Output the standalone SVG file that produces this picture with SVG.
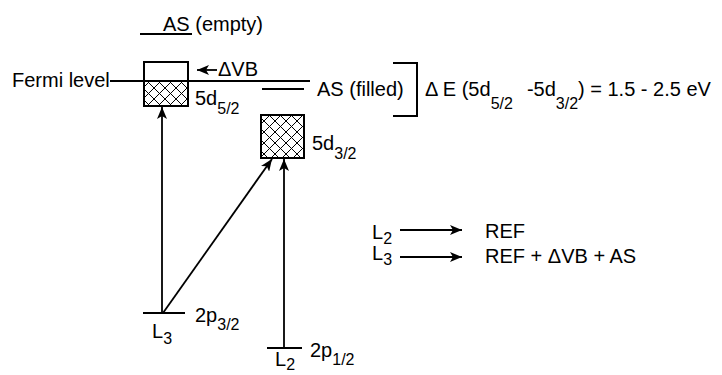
<svg xmlns="http://www.w3.org/2000/svg" width="722" height="375" viewBox="0 0 722 375">
<defs>
<pattern id="hatch" patternUnits="userSpaceOnUse" width="11" height="11">
<path d="M0,0 L11,11 M11,0 L0,11" stroke="#000" stroke-width="1"/>
</pattern>
<marker id="ah" markerUnits="userSpaceOnUse" markerWidth="14" markerHeight="10" refX="12" refY="5" orient="auto">
<path d="M0,0 L12,5 L0,10 L3,5 z" fill="#000"/>
</marker>
</defs>
<style>
text{font-family:"Liberation Sans",Arial,sans-serif;font-size:20px;fill:#000}
.sub{font-size:16px}
.ln{stroke:#000;stroke-width:2;fill:none}
.arr{stroke:#000;stroke-width:1.8;fill:none;marker-end:url(#ah)}
</style>
<rect width="722" height="375" fill="#fff"/>

<g id="as-empty">
<line class="ln" x1="140" y1="34" x2="192" y2="34"/>
<text x="163" y="31">AS (empty)</text>
</g>

<g id="fermi">
<text x="12" y="87">Fermi level</text>
<line class="ln" x1="110" y1="81" x2="310" y2="81"/>
</g>

<g id="d52">
<rect x="144" y="81" width="44" height="25" fill="url(#hatch)"/>
<rect x="144" y="62" width="44" height="44" class="ln"/>
<text x="195" y="105">5d<tspan class="sub" dy="9">5/2</tspan></text>
</g>

<g id="dvb">
<text x="218" y="76">ΔVB</text>
</g>

<g id="as-filled">
<line class="ln" x1="262" y1="89" x2="304" y2="89"/>
<text x="317" y="96">AS (filled)</text>
</g>

<g id="bracket">
<path class="ln" d="M393,63 L417,63 L417,116 L393,116"/>
<text x="425" y="96">Δ E (5d<tspan class="sub" dy="13">5/2</tspan><tspan dx="14" dy="-13">-5d</tspan><tspan class="sub" dy="13">3/2</tspan><tspan dy="-13">) = 1.5 - 2.5 eV</tspan></text>
</g>

<g id="d32">
<rect x="261" y="115" width="43" height="43" fill="url(#hatch)"/>
<rect x="261" y="115" width="43" height="43" class="ln"/>
<text x="312" y="150">5d<tspan class="sub" dy="9">3/2</tspan></text>
</g>

<g id="p32">
<line class="ln" x1="143" y1="313" x2="185" y2="313"/>
<text x="152" y="338">L<tspan class="sub" dy="6">3</tspan></text>
<text x="195" y="322">2p<tspan class="sub" dy="8">3/2</tspan></text>
</g>

<g id="p12">
<line class="ln" x1="267" y1="348" x2="302" y2="348"/>
<text x="275" y="366">L<tspan class="sub" dy="4">2</tspan></text>
<text x="310" y="357">2p<tspan class="sub" dy="8">1/2</tspan></text>
</g>

<g id="legend">
<text x="372" y="239">L<tspan class="sub" dy="5">2</tspan></text>
<text x="372" y="260">L<tspan class="sub" dy="5">3</tspan></text>
<text x="485" y="238">REF</text>
<text x="485" y="263">REF + ΔVB + AS</text>
</g>

<g id="connectors">
<line class="arr" x1="217" y1="70" x2="197" y2="70"/>
<line class="arr" x1="162" y1="313" x2="162" y2="107"/>
<line class="arr" x1="163" y1="313" x2="272" y2="159"/>
<line class="arr" x1="284" y1="348" x2="284" y2="159"/>
<line class="arr" x1="400" y1="230" x2="462" y2="230"/>
<line class="arr" x1="400" y1="257" x2="462" y2="257"/>
</g>
</svg>
